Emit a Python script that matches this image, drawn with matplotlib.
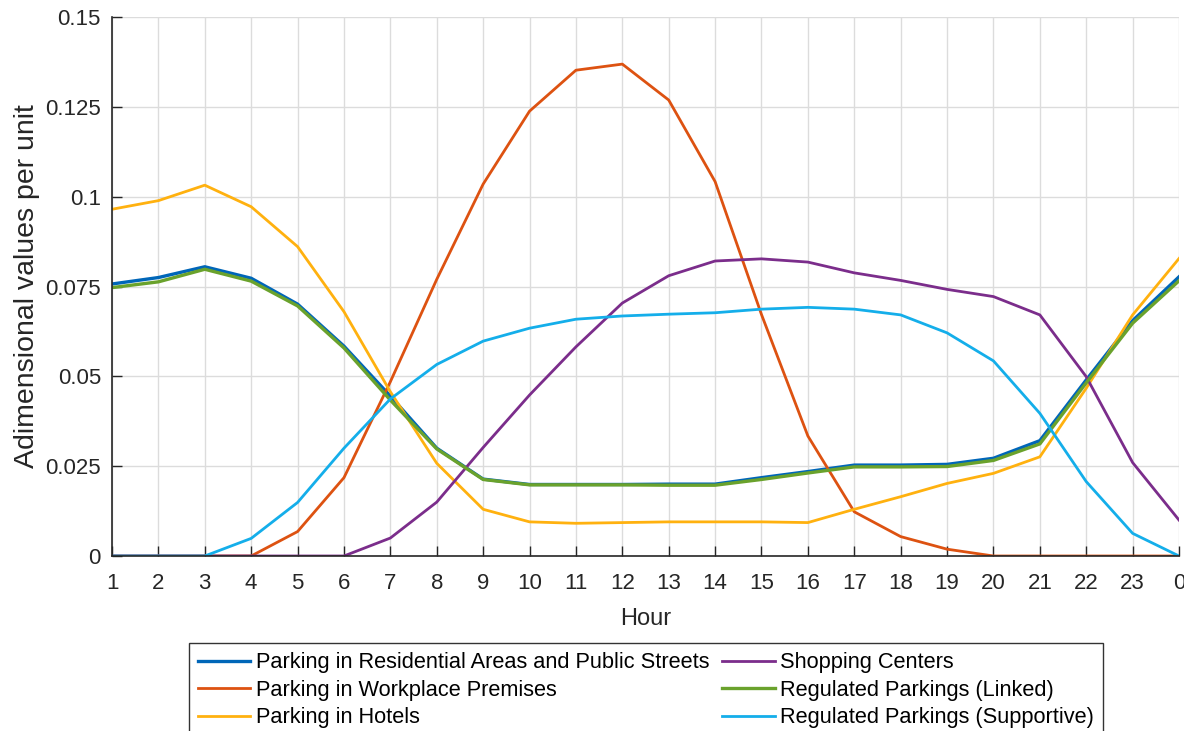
import numpy as np
import matplotlib
matplotlib.use("Agg")
import matplotlib.pyplot as plt

plt.rcParams['font.family'] = ['Liberation Sans', 'DejaVu Sans']

hours = list(range(1, 25))
hour_labels = [str(h) for h in range(1, 24)] + ['0']
yticks = [0, 0.025, 0.05, 0.075, 0.1, 0.125, 0.15]
ytick_labels = ['0', '0.025', '0.05', '0.075', '0.1', '0.125', '0.15']

residential = [0.0757, 0.0775, 0.0805, 0.0773, 0.0701, 0.0584, 0.0445, 0.0300,
               0.0214, 0.0199, 0.0199, 0.0199, 0.0200, 0.0200, 0.0218, 0.0235,
               0.0253, 0.0253, 0.0255, 0.0272, 0.0321, 0.0490, 0.0655, 0.0777]
workplace = [0, 0, 0, 0, 0.0068, 0.0218, 0.0485, 0.0770,
             0.1035, 0.1238, 0.1352, 0.1369, 0.1269, 0.1042, 0.0672, 0.0334,
             0.0123, 0.0054, 0.0019, 0, 0, 0, 0, 0]
hotels = [0.0965, 0.0989, 0.1032, 0.0972, 0.0861, 0.0680, 0.0457, 0.0258,
          0.0130, 0.0095, 0.0091, 0.0093, 0.0095, 0.0095, 0.0095, 0.0093,
          0.0130, 0.0165, 0.0202, 0.0230, 0.0276, 0.0467, 0.0671, 0.0828]
shopping = [0, 0, 0, 0, 0, 0, 0.0050, 0.0150,
            0.0302, 0.0448, 0.0582, 0.0704, 0.0780, 0.0821, 0.0827, 0.0818,
            0.0788, 0.0767, 0.0742, 0.0722, 0.0671, 0.0499, 0.0260, 0.0100]
linked = [0.0747, 0.0763, 0.0798, 0.0765, 0.0696, 0.0579, 0.0434, 0.0298,
          0.0213, 0.0198, 0.0198, 0.0198, 0.0197, 0.0197, 0.0213, 0.0231,
          0.0248, 0.0248, 0.0249, 0.0266, 0.0312, 0.0482, 0.0648, 0.0766]
supportive = [0, 0, 0, 0.0049, 0.0149, 0.0300, 0.0437, 0.0533,
              0.0598, 0.0634, 0.0659, 0.0668, 0.0673, 0.0677, 0.0687, 0.0692,
              0.0687, 0.0671, 0.0621, 0.0543, 0.0397, 0.0207, 0.0063, 0]

fig = plt.figure(figsize=(11.84, 7.31), dpi=100)
ax = fig.add_axes([0.0946, 0.2394, 0.9012, 0.7373])

ax.plot(hours, residential, color='#0066B8', linewidth=2.4, label='Parking in Residential Areas and Public Streets')
ax.plot(hours, workplace, color='#DD5211', linewidth=2.0, label='Parking in Workplace Premises')
ax.plot(hours, hotels, color='#FFB10F', linewidth=2.0, label='Parking in Hotels')
ax.plot(hours, shopping, color='#7B2D8B', linewidth=2.0, label='Shopping Centers')
ax.plot(hours, linked, color='#6AA22C', linewidth=2.4, label='Regulated Parkings (Linked)')
ax.plot(hours, supportive, color='#14AEEA', linewidth=2.0, label='Regulated Parkings (Supportive)')

ax.set_xlim(1, 24)
ax.set_ylim(0, 0.15)
ax.set_xticks(hours)
ax.set_xticklabels(hour_labels)
ax.set_yticks(yticks)
ax.set_yticklabels(ytick_labels)
ax.grid(True, color='#DCDCDC', linewidth=1.0)
ax.set_axisbelow(True)
for s in ['top', 'right']:
    ax.spines[s].set_visible(False)
for s in ['left', 'bottom']:
    ax.spines[s].set_color('#262626')
    ax.spines[s].set_linewidth(1.2)
ax.tick_params(direction='in', length=7, width=1.0, color='#262626',
               labelsize=16, labelcolor='#262626', pad=8)
ax.tick_params(axis='x', pad=12)

ax.set_xlabel('Hour', fontsize=17, color='#262626', labelpad=10)
ax.set_ylabel('Adimensional values per unit', fontsize=20.5, color='#262626', labelpad=4)

leg = ax.legend(loc='upper center', bbox_to_anchor=(0.5456, 0.1204),
                bbox_transform=fig.transFigure, ncol=2, fontsize=15.7,
                fancybox=False, framealpha=1, edgecolor='#333333',
                handlelength=2.4, handletextpad=0.25, columnspacing=0.6,
                labelspacing=0.3, borderpad=0.42, borderaxespad=0)
leg.get_frame().set_linewidth(1.0)

fig.savefig('out.png', dpi=100)
